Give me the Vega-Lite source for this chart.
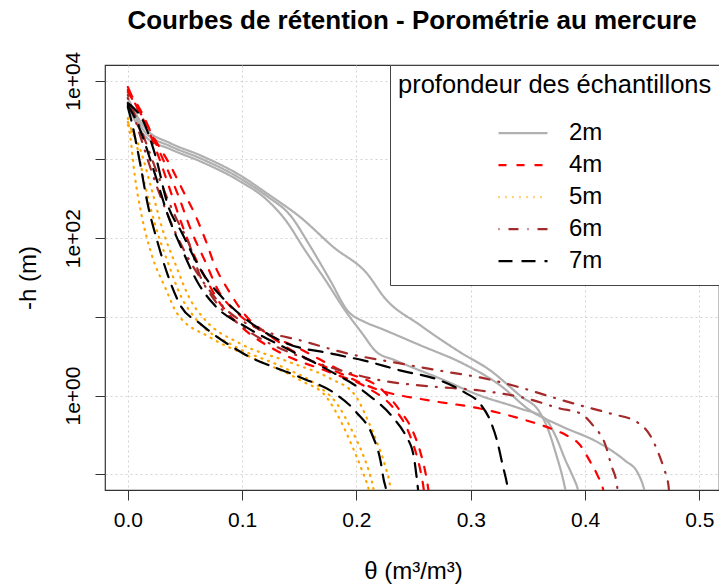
{
  "$schema": "https://vega.github.io/schema/vega-lite/v6.json",
  "width": 614,
  "height": 425,
  "autosize": {"type": "none"},
  "padding": {"left": 105, "top": 65, "right": 0, "bottom": 95},
  "background": "white",
  "config": {
    "font": "Liberation Sans",
    "view": {"stroke": "#333333", "strokeWidth": 1.2}
  },
  "title": {
    "text": "Courbes de rétention - Porométrie au mercure",
    "fontSize": 26,
    "fontWeight": "bold",
    "font": "Liberation Sans",
    "color": "black",
    "anchor": "middle",
    "baseline": "alphabetic",
    "offset": -4
  },
  "data": {
    "values": [
      {"g":"2m","c":"2a","t":0.000,"h":6025},{"g":"2m","c":"2a","t":0.015,"h":2502},{"g":"2m","c":"2a","t":0.037,"h":1612},{"g":"2m","c":"2a","t":0.063,"h":1134},{"g":"2m","c":"2a","t":0.098,"h":631},{"g":"2m","c":"2a","t":0.124,"h":351},{"g":"2m","c":"2a","t":0.151,"h":184},{"g":"2m","c":"2a","t":0.180,"h":76.6},{"g":"2m","c":"2a","t":0.209,"h":35.8},{"g":"2m","c":"2a","t":0.225,"h":17.2},{"g":"2m","c":"2a","t":0.256,"h":7.79},{"g":"2m","c":"2a","t":0.291,"h":3.53},{"g":"2m","c":"2a","t":0.317,"h":2.09},{"g":"2m","c":"2a","t":0.343,"h":1.00},{"g":"2m","c":"2a","t":0.361,"h":0.592},{"g":"2m","c":"2a","t":0.368,"h":0.360},{"g":"2m","c":"2a","t":0.375,"h":0.173},{"g":"2m","c":"2a","t":0.380,"h":0.0962},{"g":"2m","c":"2a","t":0.383,"h":0.0620},{"g":"2m","c":"2a","t":0.385,"h":0.0462},
      {"g":"2m","c":"2b","t":0.000,"h":5360},{"g":"2m","c":"2b","t":0.015,"h":2225},{"g":"2m","c":"2b","t":0.037,"h":1476},{"g":"2m","c":"2b","t":0.063,"h":1039},{"g":"2m","c":"2b","t":0.098,"h":578},{"g":"2m","c":"2b","t":0.123,"h":331},{"g":"2m","c":"2b","t":0.142,"h":196},{"g":"2m","c":"2b","t":0.159,"h":81.2},{"g":"2m","c":"2b","t":0.177,"h":29.1},{"g":"2m","c":"2b","t":0.192,"h":12.1},{"g":"2m","c":"2b","t":0.208,"h":8.51},{"g":"2m","c":"2b","t":0.221,"h":7.14},{"g":"2m","c":"2b","t":0.256,"h":4.34},{"g":"2m","c":"2b","t":0.293,"h":2.56},{"g":"2m","c":"2b","t":0.326,"h":1.34},{"g":"2m","c":"2b","t":0.352,"h":0.646},{"g":"2m","c":"2b","t":0.378,"h":0.416},{"g":"2m","c":"2b","t":0.413,"h":0.246},{"g":"2m","c":"2b","t":0.435,"h":0.149},{"g":"2m","c":"2b","t":0.446,"h":0.105},{"g":"2m","c":"2b","t":0.452,"h":0.0620},{"g":"2m","c":"2b","t":0.454,"h":0.0462},
      {"g":"2m","c":"2c","t":0.000,"h":4765},{"g":"2m","c":"2c","t":0.015,"h":1978},{"g":"2m","c":"2c","t":0.037,"h":1352},{"g":"2m","c":"2c","t":0.063,"h":951},{"g":"2m","c":"2c","t":0.098,"h":529},{"g":"2m","c":"2c","t":0.120,"h":322},{"g":"2m","c":"2c","t":0.138,"h":169},{"g":"2m","c":"2c","t":0.155,"h":70.2},{"g":"2m","c":"2c","t":0.173,"h":29.1},{"g":"2m","c":"2c","t":0.190,"h":12.1},{"g":"2m","c":"2c","t":0.205,"h":6.17},{"g":"2m","c":"2c","t":0.217,"h":3.64},{"g":"2m","c":"2c","t":0.234,"h":2.80},{"g":"2m","c":"2c","t":0.273,"h":1.65},{"g":"2m","c":"2c","t":0.308,"h":1.00},{"g":"2m","c":"2c","t":0.343,"h":0.685},{"g":"2m","c":"2c","t":0.365,"h":0.511},{"g":"2m","c":"2c","t":0.374,"h":0.311},{"g":"2m","c":"2c","t":0.383,"h":0.149},{"g":"2m","c":"2c","t":0.389,"h":0.0962},{"g":"2m","c":"2c","t":0.394,"h":0.0620},{"g":"2m","c":"2c","t":0.396,"h":0.0462},
      {"g":"4m","c":"4a","t":0.000,"h":8320},{"g":"4m","c":"4a","t":0.007,"h":4910},{"g":"4m","c":"4a","t":0.018,"h":2360},{"g":"4m","c":"4a","t":0.028,"h":980},{"g":"4m","c":"4a","t":0.037,"h":407},{"g":"4m","c":"4a","t":0.046,"h":169},{"g":"4m","c":"4a","t":0.056,"h":70.2},{"g":"4m","c":"4a","t":0.068,"h":30.9},{"g":"4m","c":"4a","t":0.082,"h":14.0},{"g":"4m","c":"4a","t":0.098,"h":7.79},{"g":"4m","c":"4a","t":0.133,"h":3.53},{"g":"4m","c":"4a","t":0.177,"h":1.97},{"g":"4m","c":"4a","t":0.209,"h":1.27},{"g":"4m","c":"4a","t":0.232,"h":0.705},{"g":"4m","c":"4a","t":0.243,"h":0.416},{"g":"4m","c":"4a","t":0.250,"h":0.232},{"g":"4m","c":"4a","t":0.256,"h":0.111},{"g":"4m","c":"4a","t":0.259,"h":0.0620},{"g":"4m","c":"4a","t":0.260,"h":0.0462},
      {"g":"4m","c":"4b","t":0.000,"h":7620},{"g":"4m","c":"4b","t":0.011,"h":4240},{"g":"4m","c":"4b","t":0.024,"h":1660},{"g":"4m","c":"4b","t":0.033,"h":846},{"g":"4m","c":"4b","t":0.044,"h":351},{"g":"4m","c":"4b","t":0.056,"h":119},{"g":"4m","c":"4b","t":0.068,"h":49.4},{"g":"4m","c":"4b","t":0.079,"h":21.7},{"g":"4m","c":"4b","t":0.096,"h":11.1},{"g":"4m","c":"4b","t":0.116,"h":6.73},{"g":"4m","c":"4b","t":0.148,"h":4.09},{"g":"4m","c":"4b","t":0.186,"h":2.09},{"g":"4m","c":"4b","t":0.223,"h":1.16},{"g":"4m","c":"4b","t":0.238,"h":0.646},{"g":"4m","c":"4b","t":0.249,"h":0.360},{"g":"4m","c":"4b","t":0.256,"h":0.189},{"g":"4m","c":"4b","t":0.260,"h":0.111},{"g":"4m","c":"4b","t":0.263,"h":0.0620},{"g":"4m","c":"4b","t":0.264,"h":0.0462},
      {"g":"4m","c":"4c","t":0.000,"h":7180},{"g":"4m","c":"4c","t":0.012,"h":3660},{"g":"4m","c":"4c","t":0.024,"h":1761},{"g":"4m","c":"4c","t":0.037,"h":846},{"g":"4m","c":"4c","t":0.048,"h":407},{"g":"4m","c":"4c","t":0.059,"h":196},{"g":"4m","c":"4c","t":0.068,"h":94.0},{"g":"4m","c":"4c","t":0.076,"h":45.2},{"g":"4m","c":"4c","t":0.088,"h":21.7},{"g":"4m","c":"4c","t":0.103,"h":10.4},{"g":"4m","c":"4c","t":0.124,"h":5.81},{"g":"4m","c":"4c","t":0.151,"h":3.24},{"g":"4m","c":"4c","t":0.180,"h":2.09},{"g":"4m","c":"4c","t":0.221,"h":1.16},{"g":"4m","c":"4c","t":0.264,"h":0.866},{"g":"4m","c":"4c","t":0.308,"h":0.685},{"g":"4m","c":"4c","t":0.343,"h":0.511},{"g":"4m","c":"4c","t":0.370,"h":0.381},{"g":"4m","c":"4c","t":0.384,"h":0.311},{"g":"4m","c":"4c","t":0.396,"h":0.232},{"g":"4m","c":"4c","t":0.404,"h":0.149},{"g":"4m","c":"4c","t":0.411,"h":0.0962},{"g":"4m","c":"4c","t":0.416,"h":0.0620},{"g":"4m","c":"4c","t":0.417,"h":0.0462},
      {"g":"5m","c":"5a","t":0.000,"h":3352},{"g":"5m","c":"5a","t":0.002,"h":2037},{"g":"5m","c":"5a","t":0.006,"h":631},{"g":"5m","c":"5a","t":0.012,"h":196},{"g":"5m","c":"5a","t":0.021,"h":60.6},{"g":"5m","c":"5a","t":0.033,"h":23.0},{"g":"5m","c":"5a","t":0.043,"h":11.1},{"g":"5m","c":"5a","t":0.072,"h":5.48},{"g":"5m","c":"5a","t":0.104,"h":3.24},{"g":"5m","c":"5a","t":0.151,"h":1.56},{"g":"5m","c":"5a","t":0.174,"h":0.946},{"g":"5m","c":"5a","t":0.186,"h":0.482},{"g":"5m","c":"5a","t":0.196,"h":0.232},{"g":"5m","c":"5a","t":0.205,"h":0.111},{"g":"5m","c":"5a","t":0.211,"h":0.0620},{"g":"5m","c":"5a","t":0.213,"h":0.0462},
      {"g":"5m","c":"5b","t":0.000,"h":2982},{"g":"5m","c":"5b","t":0.007,"h":1660},{"g":"5m","c":"5b","t":0.015,"h":471},{"g":"5m","c":"5b","t":0.024,"h":146},{"g":"5m","c":"5b","t":0.035,"h":49.4},{"g":"5m","c":"5b","t":0.046,"h":18.8},{"g":"5m","c":"5b","t":0.059,"h":9.57},{"g":"5m","c":"5b","t":0.092,"h":4.34},{"g":"5m","c":"5b","t":0.136,"h":2.28},{"g":"5m","c":"5b","t":0.166,"h":1.34},{"g":"5m","c":"5b","t":0.184,"h":0.748},{"g":"5m","c":"5b","t":0.196,"h":0.360},{"g":"5m","c":"5b","t":0.206,"h":0.173},{"g":"5m","c":"5b","t":0.212,"h":0.0962},{"g":"5m","c":"5b","t":0.215,"h":0.0620},{"g":"5m","c":"5b","t":0.216,"h":0.0462},
      {"g":"5m","c":"5c","t":0.000,"h":2731},{"g":"5m","c":"5c","t":0.011,"h":1313},{"g":"5m","c":"5c","t":0.021,"h":407},{"g":"5m","c":"5c","t":0.030,"h":134},{"g":"5m","c":"5c","t":0.042,"h":45.2},{"g":"5m","c":"5c","t":0.054,"h":17.2},{"g":"5m","c":"5c","t":0.068,"h":9.02},{"g":"5m","c":"5c","t":0.098,"h":4.60},{"g":"5m","c":"5c","t":0.142,"h":2.64},{"g":"5m","c":"5c","t":0.177,"h":1.65},{"g":"5m","c":"5c","t":0.199,"h":1.00},{"g":"5m","c":"5c","t":0.210,"h":0.482},{"g":"5m","c":"5c","t":0.219,"h":0.232},{"g":"5m","c":"5c","t":0.225,"h":0.129},{"g":"5m","c":"5c","t":0.230,"h":0.0620},{"g":"5m","c":"5c","t":0.231,"h":0.0462},
      {"g":"6m","c":"6a","t":0.000,"h":6580},{"g":"6m","c":"6a","t":0.012,"h":1761},{"g":"6m","c":"6a","t":0.024,"h":514},{"g":"6m","c":"6a","t":0.035,"h":196},{"g":"6m","c":"6a","t":0.050,"h":66.2},{"g":"6m","c":"6a","t":0.068,"h":25.2},{"g":"6m","c":"6a","t":0.085,"h":12.8},{"g":"6m","c":"6a","t":0.118,"h":6.73},{"g":"6m","c":"6a","t":0.151,"h":5.02},{"g":"6m","c":"6a","t":0.192,"h":3.43},{"g":"6m","c":"6a","t":0.238,"h":2.56},{"g":"6m","c":"6a","t":0.282,"h":1.97},{"g":"6m","c":"6a","t":0.308,"h":1.70},{"g":"6m","c":"6a","t":0.343,"h":1.27},{"g":"6m","c":"6a","t":0.372,"h":0.946},{"g":"6m","c":"6a","t":0.396,"h":0.748},{"g":"6m","c":"6a","t":0.422,"h":0.592},{"g":"6m","c":"6a","t":0.446,"h":0.455},{"g":"6m","c":"6a","t":0.457,"h":0.311},{"g":"6m","c":"6a","t":0.464,"h":0.189},{"g":"6m","c":"6a","t":0.469,"h":0.118},{"g":"6m","c":"6a","t":0.473,"h":0.0718},{"g":"6m","c":"6a","t":0.474,"h":0.0462},
      {"g":"6m","c":"6b","t":0.000,"h":6025},{"g":"6m","c":"6b","t":0.015,"h":1761},{"g":"6m","c":"6b","t":0.028,"h":545},{"g":"6m","c":"6b","t":0.041,"h":196},{"g":"6m","c":"6b","t":0.054,"h":81.2},{"g":"6m","c":"6b","t":0.063,"h":33.7},{"g":"6m","c":"6b","t":0.076,"h":16.2},{"g":"6m","c":"6b","t":0.101,"h":7.35},{"g":"6m","c":"6b","t":0.124,"h":4.60},{"g":"6m","c":"6b","t":0.148,"h":3.24},{"g":"6m","c":"6b","t":0.186,"h":2.09},{"g":"6m","c":"6b","t":0.221,"h":1.56},{"g":"6m","c":"6b","t":0.264,"h":1.31},{"g":"6m","c":"6b","t":0.308,"h":1.16},{"g":"6m","c":"6b","t":0.349,"h":0.918},{"g":"6m","c":"6b","t":0.378,"h":0.685},{"g":"6m","c":"6b","t":0.396,"h":0.592},{"g":"6m","c":"6b","t":0.407,"h":0.416},{"g":"6m","c":"6b","t":0.418,"h":0.232},{"g":"6m","c":"6b","t":0.423,"h":0.129},{"g":"6m","c":"6b","t":0.428,"h":0.0718},{"g":"6m","c":"6b","t":0.429,"h":0.0462},
      {"g":"7m","c":"7a","t":0.000,"h":4625},{"g":"7m","c":"7a","t":0.004,"h":2731},{"g":"7m","c":"7a","t":0.011,"h":846},{"g":"7m","c":"7a","t":0.017,"h":286},{"g":"7m","c":"7a","t":0.026,"h":88.7},{"g":"7m","c":"7a","t":0.035,"h":33.7},{"g":"7m","c":"7a","t":0.046,"h":14.0},{"g":"7m","c":"7a","t":0.063,"h":8.26},{"g":"7m","c":"7a","t":0.101,"h":3.43},{"g":"7m","c":"7a","t":0.151,"h":1.70},{"g":"7m","c":"7a","t":0.180,"h":1.09},{"g":"7m","c":"7a","t":0.200,"h":0.610},{"g":"7m","c":"7a","t":0.214,"h":0.311},{"g":"7m","c":"7a","t":0.221,"h":0.149},{"g":"7m","c":"7a","t":0.224,"h":0.0831},{"g":"7m","c":"7a","t":0.226,"h":0.0620},{"g":"7m","c":"7a","t":0.227,"h":0.0462},
      {"g":"7m","c":"7b","t":0.000,"h":4910},{"g":"7m","c":"7b","t":0.009,"h":2731},{"g":"7m","c":"7b","t":0.024,"h":631},{"g":"7m","c":"7b","t":0.035,"h":196},{"g":"7m","c":"7b","t":0.047,"h":74.4},{"g":"7m","c":"7b","t":0.061,"h":27.5},{"g":"7m","c":"7b","t":0.076,"h":14.0},{"g":"7m","c":"7b","t":0.104,"h":7.35},{"g":"7m","c":"7b","t":0.142,"h":3.75},{"g":"7m","c":"7b","t":0.171,"h":2.28},{"g":"7m","c":"7b","t":0.209,"h":1.06},{"g":"7m","c":"7b","t":0.232,"h":0.526},{"g":"7m","c":"7b","t":0.243,"h":0.311},{"g":"7m","c":"7b","t":0.250,"h":0.173},{"g":"7m","c":"7b","t":0.253,"h":0.0831},{"g":"7m","c":"7b","t":0.254,"h":0.0620},{"g":"7m","c":"7b","t":0.255,"h":0.0462},
      {"g":"7m","c":"7c","t":0.000,"h":5205},{"g":"7m","c":"7c","t":0.015,"h":2731},{"g":"7m","c":"7c","t":0.024,"h":1134},{"g":"7m","c":"7c","t":0.035,"h":262},{"g":"7m","c":"7c","t":0.047,"h":119},{"g":"7m","c":"7c","t":0.065,"h":36.8},{"g":"7m","c":"7c","t":0.085,"h":16.2},{"g":"7m","c":"7c","t":0.107,"h":8.51},{"g":"7m","c":"7c","t":0.139,"h":4.60},{"g":"7m","c":"7c","t":0.177,"h":3.43},{"g":"7m","c":"7c","t":0.206,"h":2.80},{"g":"7m","c":"7c","t":0.238,"h":2.09},{"g":"7m","c":"7c","t":0.273,"h":1.56},{"g":"7m","c":"7c","t":0.295,"h":1.09},{"g":"7m","c":"7c","t":0.308,"h":0.793},{"g":"7m","c":"7c","t":0.317,"h":0.482},{"g":"7m","c":"7c","t":0.323,"h":0.268},{"g":"7m","c":"7c","t":0.328,"h":0.129},{"g":"7m","c":"7c","t":0.332,"h":0.0718},{"g":"7m","c":"7c","t":0.334,"h":0.0462}
    ]
  },
  "mark": {"type": "line", "clip": true, "strokeWidth": 2.2, "strokeCap": "round", "interpolate": "monotone"},
  "encoding": {
    "x": {
      "field": "t",
      "type": "quantitative",
      "scale": {"domain": [-0.02, 0.5172], "nice": false, "zero": false},
      "axis": {
        "values": [0, 0.1, 0.2, 0.3, 0.4, 0.5],
        "format": ".1f",
        "labelFontSize": 21,
        "labelColor": "black",
        "labelPadding": 9,
        "labelFlush": false,
        "labelOverlap": false,
        "tickSize": 10,
        "tickColor": "#333333",
        "domain": false,
        "grid": true,
        "gridDash": [2, 3],
        "gridColor": "#d3d3d3",
        "gridWidth": 1,
        "title": "θ (m³/m³)",
        "titleFontSize": 24,
        "titleFontWeight": "normal",
        "titleColor": "black",
        "titleX": 308,
        "titleY": 88,
        "titleAlign": "center",
        "titleBaseline": "alphabetic"
      }
    },
    "y": {
      "field": "h",
      "type": "quantitative",
      "scale": {"type": "log", "domain": [0.0631, 15849], "nice": false},
      "axis": {
        "values": [0.1, 1, 10, 100, 1000, 10000],
        "labelExpr": "datum.value > 9000 ? '1e+04' : (abs(datum.value - 100) < 1 ? '1e+02' : (abs(datum.value - 1) < 0.01 ? '1e+00' : ''))",
        "labelAngle": -90,
        "labelAlign": "center",
        "labelBaseline": "alphabetic",
        "labelFontSize": 21,
        "labelColor": "black",
        "labelPadding": 16,
        "labelOverlap": false,
        "labelFlush": false,
        "tickSize": 10,
        "tickColor": "#333333",
        "domain": false,
        "grid": true,
        "gridDash": [2, 3],
        "gridColor": "#d3d3d3",
        "gridWidth": 1,
        "title": "-h (m)",
        "titleFontSize": 24,
        "titleFontWeight": "normal",
        "titleColor": "black",
        "titleAngle": -90,
        "titleX": -70,
        "titleY": 212.5,
        "titleAlign": "center",
        "titleBaseline": "alphabetic"
      }
    },
    "color": {
      "field": "g",
      "type": "nominal",
      "scale": {"domain": ["2m", "4m", "5m", "6m", "7m"], "range": ["#b0b0b0", "#ff0000", "#ffa500", "#a52a2a", "#000000"]},
      "legend": {
        "orient": "none",
        "legendX": 285,
        "legendY": 0,
        "title": "profondeur des échantillons",
        "titleFontSize": 25.5,
        "titleFontWeight": "normal",
        "titleColor": "black",
        "titleLimit": 500,
        "titlePadding": 19,
        "labelFontSize": 24,
        "labelColor": "black",
        "labelOffset": 20,
        "labelLimit": 200,
        "symbolType": "stroke",
        "symbolSize": 2401,
        "symbolStrokeWidth": 2.2,
        "symbolOffset": 99,
        "clipHeight": 31.4,
        "rowPadding": 0,
        "padding": 8,
        "strokeColor": "#444444",
        "fillColor": "white",
        "cornerRadius": 0
      }
    },
    "strokeDash": {
      "field": "g",
      "type": "nominal",
      "scale": {"domain": ["2m", "4m", "5m", "6m", "7m"], "range": [[1, 0], [8, 10], [1, 6], [1, 9, 10, 9], [14, 9]]}
    },
    "detail": {"field": "c", "type": "nominal"}
  }
}
